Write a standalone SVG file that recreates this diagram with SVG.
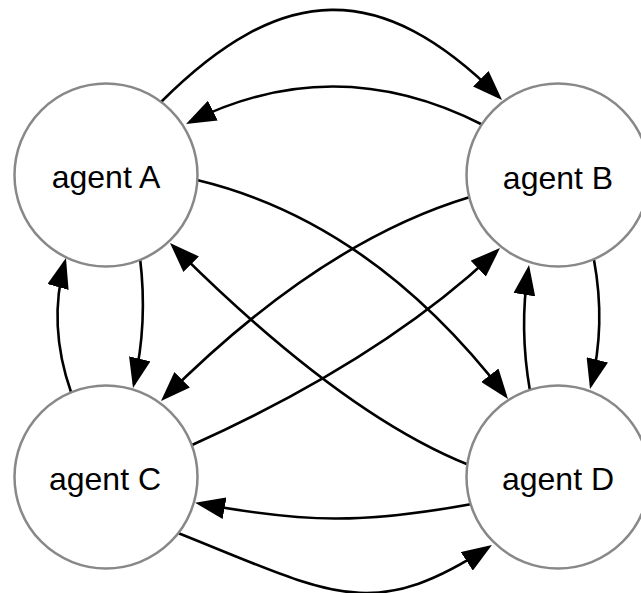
<svg xmlns="http://www.w3.org/2000/svg" width="641" height="593" viewBox="0 0 641 593">
  <defs>
    <marker id="arrow" markerUnits="userSpaceOnUse" markerWidth="30" markerHeight="22" viewBox="0 0 30 22" refX="26" refY="11" orient="auto">
      <path d="M0,0 L30,11 L0,22 z" fill="#000"/>
    </marker>
    <style>
      .edge { fill: none; stroke: #000; stroke-width: 2.6; marker-end: url(#arrow); }
      .node circle { fill: #fff; stroke: #888; stroke-width: 2.5; }
      .node text { font-family: "Liberation Sans", Arial, Helvetica, sans-serif; font-size: 32px; fill: #000; text-anchor: middle; }
    </style>
  </defs>
  <rect width="641" height="593" fill="#fff"/>
  <g id="connectors">
    <path class="edge" d="M161,102 C282,-19 381,-21 499.2,97.2"/>
    <path class="edge" d="M483,125 Q335,49.5 189.6,122.2"/>
    <path class="edge" d="M197,180 Q372,222 505.6,395.8"/>
    <path class="edge" d="M469,465 Q341,414 172.8,245.8"/>
    <path class="edge" d="M470,197 Q320,242 163.8,398.2"/>
    <path class="edge" d="M192,445 Q383,359 497.1,250.8"/>
    <path class="edge" d="M140,258 Q148,323 133.9,384.1"/>
    <path class="edge" d="M71,392 Q47.5,325 64.9,261.9"/>
    <path class="edge" d="M594,260 Q606,325 591,385.1"/>
    <path class="edge" d="M530,391 Q519,328 528.4,269"/>
    <path class="edge" d="M472,504 C362,524 307,523 199,503.5"/>
    <path class="edge" d="M178,533 C331,594 370.5,624 488.6,547.2"/>
  </g>
  <g id="agentA" class="node">
    <circle cx="106" cy="175" r="91.5"/>
    <text x="106" y="188">agent A</text>
  </g>
  <g id="agentB" class="node">
    <circle cx="558" cy="175" r="91.5"/>
    <text x="558" y="189">agent B</text>
  </g>
  <g id="agentC" class="node">
    <circle cx="106" cy="477" r="91.5"/>
    <text x="105" y="490">agent C</text>
  </g>
  <g id="agentD" class="node">
    <circle cx="558" cy="477" r="91.5"/>
    <text x="558" y="490">agent D</text>
  </g>
</svg>
